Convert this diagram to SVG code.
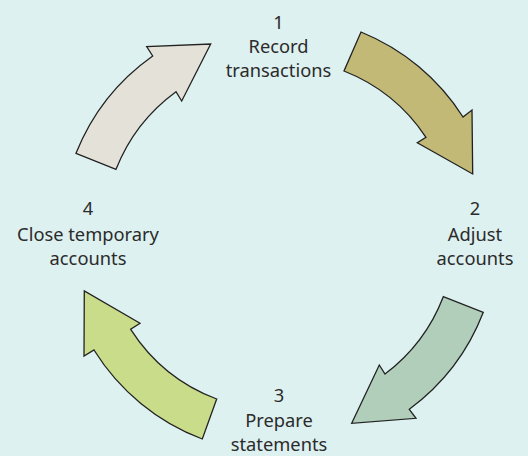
<svg xmlns="http://www.w3.org/2000/svg" width="528" height="456" viewBox="0 0 528 456">
<style>
.lbl{font-family:"Noto Sans","Open Sans","DejaVu Sans",sans-serif;font-size:18.3px;fill:#2b2b2b;text-anchor:middle}
.arr{stroke:#222;stroke-width:1.3;stroke-linejoin:miter}
</style>
<rect width="528" height="456" fill="#DDF1F0"/>
<g id="connectors">
<path id="arrow-1-2" class="arr" fill="#C2B977" d="M361,32 A218,218 0 0,1 463,117 L472,110 L472.7,174 L417.3,142.7 L426,137.3 A176,176 0 0,0 344,71 Z"/>
<path id="arrow-2-3" class="arr" fill="#B0CEBA" d="M443.3,296.7 L483.3,312.3 A218,218 0 0,1 409.3,409.3 L416,418.3 L351.7,423.3 L379.3,365 L385,374 A176,176 0 0,0 443.3,296.7 Z"/>
<path id="arrow-3-4" class="arr" fill="#C8DC8A" d="M216.7,399 L202.3,439 A218,218 0 0,1 94,350 L84,356 L84.3,291 L140,323.3 L130.7,329.3 A176,176 0 0,0 216.7,399 Z"/>
<path id="arrow-4-1" class="arr" fill="#E4E2D8" d="M116,169.3 L76,153.3 A218,218 0 0,1 152.7,56 L146.7,46.7 L210.7,44 L181.7,101 L176,91.7 A176,176 0 0,0 116,169.3 Z"/>
</g>
<g id="step1"><text class="lbl"><tspan x="278.5" y="29">1</tspan><tspan x="278.5" y="53">Record</tspan><tspan x="278.5" y="77">transactions</tspan></text></g>
<g id="step2"><text class="lbl"><tspan x="475" y="215">2</tspan><tspan x="475" y="240.5">Adjust</tspan><tspan x="475" y="265">accounts</tspan></text></g>
<g id="step3"><text class="lbl"><tspan x="279" y="402">3</tspan><tspan x="279" y="427">Prepare</tspan><tspan x="279" y="450.5">statements</tspan></text></g>
<g id="step4"><text class="lbl"><tspan x="88" y="215">4</tspan><tspan x="88" y="240.5">Close temporary</tspan><tspan x="88" y="265">accounts</tspan></text></g>
</svg>
